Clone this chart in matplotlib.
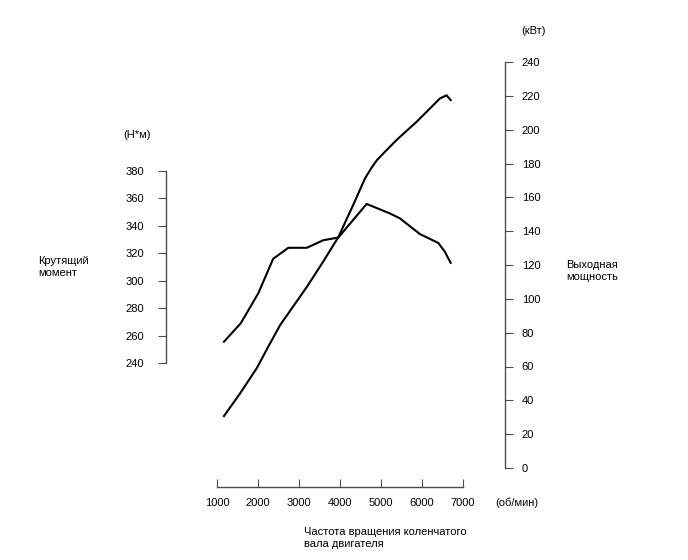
import matplotlib.pyplot as plt

plt.rcParams['font.family'] = ['Liberation Sans', 'DejaVu Sans']

# частота вращения, об/мин
rpm_torque = [1170, 1580, 2010, 2370, 2740, 3190, 3590, 3960, 4650, 5220, 5460, 5950, 6400, 6560, 6700]
torque = [255.5, 269, 291, 316, 324, 324, 329.5, 331.5, 356, 349, 345.5, 334, 327.5, 321, 313]

rpm_power = [1170, 1560, 1970, 2250, 2540, 3190, 3590, 3960, 4320, 4610, 4770, 4900, 5060, 5380, 5870, 6440, 6600, 6700]
power = [30.7, 44, 59, 71.7, 84.5, 107, 122, 136.5, 155.4, 171.2, 177.5, 182, 186, 193.9, 204.7, 218.5, 220.3, 217.5]

x_ticks = [1000, 2000, 3000, 4000, 5000, 6000, 7000]
torque_ticks = [240, 260, 280, 300, 320, 340, 360, 380]
power_ticks = [0, 20, 40, 60, 80, 100, 120, 140, 160, 180, 200, 220, 240]

W, H = 688, 560
fig = plt.figure(figsize=(W / 100, H / 100), dpi=100)

# область данных в пикселях
x0, x1 = 217, 463
y_top, y_bot = 62, 468
ax = fig.add_axes([x0 / W, 1 - y_bot / H, (x1 - x0) / W, (y_bot - y_top) / H])
ax.patch.set_alpha(0)

# шкала момента: 380 -> y=171, 240 -> y=363
ppn = (363 - 171) / 140
t_top = 380 + (171 - y_top) / ppn
t_bot = 380 - (y_bot - 171) / ppn

px2pt = 0.72
axis_col = '#4d4d4d'
fs = 8

ax.plot(rpm_torque, torque, color='black', lw=1.5)
ax.set_xlim(1000, 7000)
ax.set_ylim(t_bot, t_top)
ax.spines['top'].set_visible(False)
ax.spines['right'].set_visible(False)
ax.spines['left'].set_position(('outward', (x0 - 166) * px2pt))
ax.spines['left'].set_bounds(240, 380)
ax.spines['bottom'].set_position(('outward', (487 - y_bot) * px2pt))
for s in ('left', 'bottom'):
    ax.spines[s].set_color(axis_col)
    ax.spines[s].set_linewidth(1)
ax.set_yticks(torque_ticks)
ax.set_xticks(x_ticks)
ax.tick_params(axis='y', direction='out', length=6, pad=10, labelsize=fs, color=axis_col)
ax.tick_params(axis='x', direction='in', length=6, pad=8, labelsize=fs, color=axis_col)

ax2 = ax.twinx()
ax2.plot(rpm_power, power, color='black', lw=1.5)
ax2.set_ylim(0, 240)
for s in ('top', 'left', 'bottom'):
    ax2.spines[s].set_visible(False)
ax2.spines['right'].set_position(('outward', (505 - x1) * px2pt))
ax2.spines['right'].set_color(axis_col)
ax2.spines['right'].set_linewidth(1)
ax2.set_yticks(power_ticks)
ax2.tick_params(axis='y', direction='out', length=6, pad=6, labelsize=fs, color=axis_col)


def ftext(x, y, s, **kw):
    fig.text(x / W, 1 - y / H, s, fontsize=fs, va='center', **kw)


ftext(137, 135, '(Н*м)', ha='center')
ftext(533, 31, '(кВт)', ha='center')
ftext(38, 267, 'Крутящий\nмомент', ha='left', linespacing=1.25)
ftext(566, 271, 'Выходная\nмощность', ha='left', linespacing=1.25)
ftext(495, 503, '(об/мин)', ha='left')
ftext(304, 538, 'Частота вращения коленчатого\nвала двигателя', ha='left', linespacing=1.25)

fig.savefig('out.png', dpi=100)
